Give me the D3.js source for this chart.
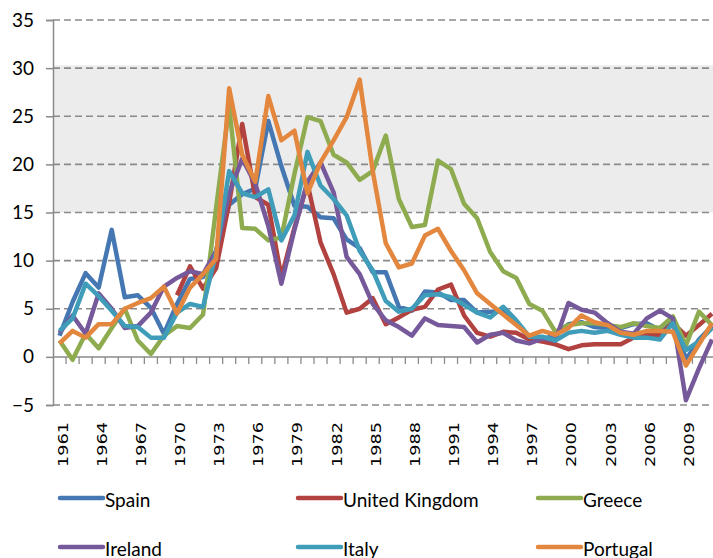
<!DOCTYPE html>
<html>
<head>
<meta charset="utf-8">
<script src="https://cdn.jsdelivr.net/npm/d3@7"></script>
<style>
  body { margin: 0; background: #fff; }
  svg { display: block; }
</style>
</head>
<body>
<div id="chart"></div>
<script>
// inflation, annual %, 1961-2011
var years = d3.range(1961, 2012);
var yTicks = [-5, 0, 5, 10, 15, 20, 25, 30, 35];
var band = [15, 30.3]; // shaded zone

var spain = [2.2, 5.7, 8.7, 7.2, 13.2, 6.2, 6.4, 5.1, 2.4, 5.5,
             8.1, 8.3, 11.0, 15.8, 16.9, 17.5, 24.5, 19.8, 15.7, 15.6,
             14.5, 14.4, 12.2, 11.3, 8.8, 8.8, 5.2, 4.8, 6.8, 6.7,
             5.9, 5.9, 4.6, 4.7, 4.7, 3.6, 2.0, 1.8, 2.3, 3.4,
             3.6, 3.1, 3.0, 3.0, 3.4, 3.5, 2.8, 4.1, -0.3, 1.8, 3.2];
var uk = [null, null, null, null, null, null, null, null, null, 6.4,
          9.4, 7.1, 9.2, 16.0, 24.2, 16.6, 15.8, 8.3, 13.4, 18.0,
          11.9, 8.6, 4.6, 5.0, 6.1, 3.4, 4.1, 4.9, 5.2, 7.0,
          7.5, 4.3, 2.5, 2.1, 2.6, 2.5, 1.8, 1.6, 1.3, 0.8,
          1.2, 1.3, 1.3, 1.3, 2.0, 2.3, 2.3, 3.5, 2.2, 3.3, 4.5];
var greece = [1.7, -0.3, 2.4, 0.9, 3.0, 5.0, 1.7, 0.3, 2.2, 3.2,
              3.0, 4.4, 15.5, 26.0, 13.4, 13.3, 12.1, 12.4, 19.0, 24.9,
              24.5, 21.0, 20.2, 18.4, 19.3, 23.0, 16.4, 13.5, 13.7, 20.4,
              19.5, 15.9, 14.4, 10.9, 8.9, 8.2, 5.5, 4.8, 2.6, 3.3,
              3.5, 3.5, 3.3, 3.1, 3.5, 3.2, 3.0, 4.2, 1.2, 4.7, 3.3];
var ireland = [2.5, 4.3, 2.4, 6.6, 5.0, 3.0, 3.2, 4.6, 7.3, 8.2,
               8.9, 8.6, 11.0, 17.0, 20.6, 18.0, 13.6, 7.6, 13.2, 18.2,
               20.2, 17.1, 10.4, 8.6, 5.5, 3.8, 3.1, 2.2, 4.0, 3.3,
               3.2, 3.1, 1.5, 2.3, 2.5, 1.7, 1.4, 1.9, 1.7, 5.6,
               4.9, 4.6, 3.5, 2.6, 2.4, 4.0, 4.8, 4.0, -4.5, -1.2, 1.8];
var italy = [2.7, 4.0, 7.6, 6.3, 4.8, 3.2, 3.1, 2.0, 2.0, 4.6,
             5.5, 5.2, 10.8, 19.3, 17.0, 16.6, 17.4, 12.1, 14.7, 21.3,
             17.8, 16.4, 14.7, 11.0, 9.0, 5.8, 4.7, 5.0, 6.4, 6.5,
             6.2, 5.4, 4.6, 4.1, 5.2, 3.8, 2.1, 2.1, 1.7, 2.5,
             2.7, 2.5, 2.7, 2.3, 2.0, 2.0, 1.8, 3.5, 0.7, 1.6, 3.0];
var portugal = [1.4, 2.7, 2.0, 3.4, 3.4, 5.0, 5.6, 6.1, 7.3, 4.5,
                7.2, 8.6, 10.2, 27.9, 21.0, 18.2, 27.1, 22.5, 23.5, 17.0,
                20.2, 22.5, 24.9, 28.8, 19.3, 11.8, 9.3, 9.7, 12.6, 13.3,
                11.0, 9.0, 6.6, 5.5, 4.4, 3.3, 2.2, 2.7, 2.3, 3.0,
                4.3, 3.6, 3.3, 2.5, 2.3, 2.7, 2.7, 2.6, -0.9, 1.3, 3.5];

var names = ["Spain", "United Kingdom", "Greece", "Ireland", "Italy", "Portugal"];
var colors = ["#4577b2", "#b2423f", "#8eac4f", "#75599a", "#3f9db9", "#e3873e"];
var series = [spain, uk, greece, ireland, italy, portugal];

var width = 713, height = 558;
var plotLeft = 53, plotTop = 20, plotBottom = 405;
var step = 13.05;

var svg = d3.select("#chart").append("svg")
  .attr("width", width)
  .attr("height", height);

var x = d3.scaleBand().domain(years).range([plotLeft, plotLeft + step * years.length]);
var y = d3.scaleLinear().domain([-5, 35]).range([plotBottom, plotTop]);

// shaded band
svg.append("rect")
  .attr("x", plotLeft)
  .attr("y", y(band[1]))
  .attr("width", width - plotLeft)
  .attr("height", y(band[0]) - y(band[1]))
  .attr("fill", "#ececec");

// dashed gridlines
svg.selectAll(".grid")
  .data(yTicks.filter(function(d) { return d != 0; }))
  .enter().append("line")
  .attr("x1", plotLeft).attr("x2", width)
  .attr("y1", function(d) { return y(d); })
  .attr("y2", function(d) { return y(d); })
  .attr("stroke", "#8a8a8a")
  .attr("stroke-width", 1.6)
  .attr("stroke-dasharray", "7,4");

// y axis
var yAxis = svg.append("g")
  .attr("transform", "translate(" + plotLeft + ",0)")
  .call(d3.axisLeft(y).tickValues(yTicks).tickSize(7).tickPadding(12));
yAxis.select(".domain").attr("stroke", "#8a8a8a").attr("stroke-width", 1.5);
yAxis.selectAll(".tick line").attr("stroke", "#8a8a8a").attr("stroke-width", 1.5);
yAxis.selectAll(".tick text")
  .attr("font-family", "Lato, sans-serif")
  .attr("font-size", "19px")
  .attr("fill", "#000");

// x axis at zero, ticks at category edges
svg.append("line")
  .attr("x1", plotLeft).attr("x2", width)
  .attr("y1", y(0)).attr("y2", y(0))
  .attr("stroke", "#8a8a8a")
  .attr("stroke-width", 1.5);

svg.selectAll(".xtick")
  .data(years)
  .enter().append("line")
  .attr("x1", function(d) { return x(d) + x.bandwidth(); })
  .attr("x2", function(d) { return x(d) + x.bandwidth(); })
  .attr("y1", y(0)).attr("y2", y(0) + 7)
  .attr("stroke", "#8a8a8a")
  .attr("stroke-width", 1.3);

// year labels, every 3rd
svg.selectAll(".xlabel")
  .data(years.filter(function(d, i) { return i % 3 == 0; }))
  .enter().append("text")
  .attr("transform", function(d) {
    return "translate(" + (x(d) + x.bandwidth() / 2 + 3) + "," + 422 + ") rotate(-90)";
  })
  .attr("text-anchor", "end")
  .attr("dominant-baseline", "central")
  .attr("font-family", "DejaVu Sans, sans-serif")
  .attr("font-size", "14.5px")
  .attr("textLength", 45)
  .attr("lengthAdjust", "spacingAndGlyphs")
  .text(function(d) { return d; });

// lines
var line = d3.line()
  .defined(function(d) { return d != null; })
  .x(function(d, i) { return x(years[i]) + x.bandwidth() / 2; })
  .y(function(d) { return y(d); });

svg.selectAll(".series")
  .data(series)
  .enter().append("path")
  .attr("d", line)
  .attr("fill", "none")
  .attr("stroke", function(d, i) { return colors[i]; })
  .attr("stroke-width", 4.5)
  .attr("stroke-linejoin", "round");

// legend, 3 per row
var legend = svg.selectAll(".legend")
  .data(names)
  .enter().append("g")
  .attr("transform", function(d, i) {
    var cols = [60, 298, 538];
    return "translate(" + cols[i % 3] + "," + (498 + Math.floor(i / 3) * 49) + ")";
  });

legend.append("line")
  .attr("x1", 0).attr("x2", 43)
  .attr("stroke", function(d, i) { return colors[i]; })
  .attr("stroke-width", 4.5)
  .attr("stroke-linecap", "round");

legend.append("text")
  .attr("x", 45)
  .attr("y", 1)
  .attr("dominant-baseline", "central")
  .attr("font-family", "Lato, sans-serif")
  .attr("font-size", "19px")
  .text(function(d) { return d; });
</script>
</body>
</html>
